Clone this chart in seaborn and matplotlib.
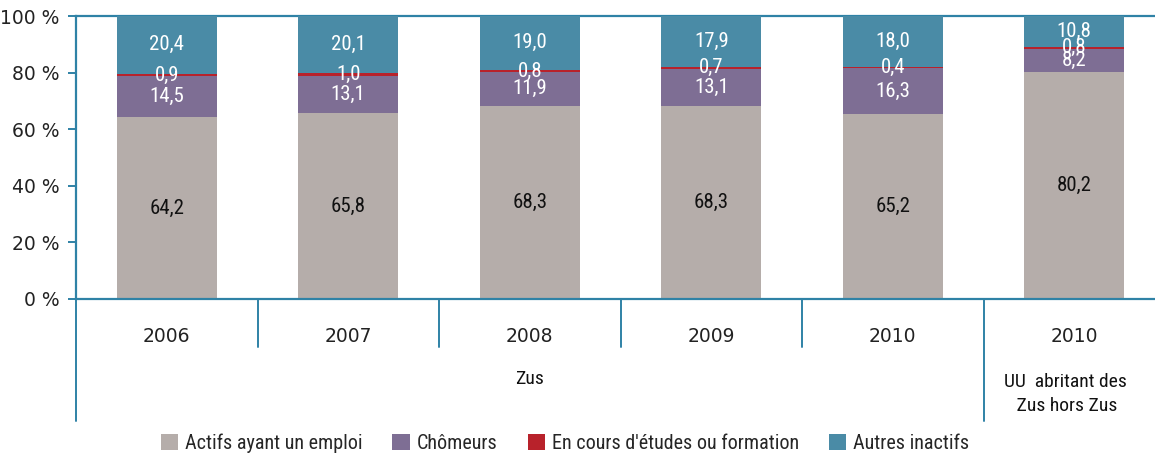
import matplotlib
matplotlib.use("Agg")
import matplotlib.pyplot as plt
import matplotlib.transforms as mtransforms
from matplotlib.patches import Patch
import numpy as np
import pandas as pd
import seaborn as sns

# --- data -------------------------------------------------------------
bar_keys = ["2006", "2007", "2008", "2009", "2010", "2010 UU"]
year_labels = ["2006", "2007", "2008", "2009", "2010", "2010"]
actifs = [64.2, 65.8, 68.3, 68.3, 65.2, 80.2]
chomeurs = [14.5, 13.1, 11.9, 13.1, 16.3, 8.2]
etudes = [0.9, 1.0, 0.8, 0.7, 0.4, 0.8]
inactifs = [20.4, 20.1, 19.0, 17.9, 18.0, 10.8]
series_names = ["Actifs ayant un emploi", "Chômeurs",
                "En cours d'études ou formation", "Autres inactifs"]
group_labels = ["Zus", "UU  abritant des\n Zus hors Zus"]
y_ticks = [0, 20, 40, 60, 80, 100]

# --- style ------------------------------------------------------------
sns.set_theme(style="white")
narrow = ["Liberation Sans Narrow", "Roboto Condensed", "Liberation Sans", "DejaVu Sans"]
plt.rcParams["font.family"] = ["DejaVu Sans"]

colors = ["#b5adaa", "#7e6e94", "#b8222b", "#4a8ba6"]
axis_col = "#2f82a6"

df = pd.DataFrame({"bar": bar_keys, "actifs": actifs, "chomeurs": chomeurs,
                   "etudes": etudes, "inactifs": inactifs})
layers = ["actifs", "chomeurs", "etudes", "inactifs"]
cum = df[layers].cumsum(axis=1)

W, H = 1155, 454
fig = plt.figure(figsize=(W / 100, H / 100), dpi=100)
ax = fig.add_axes([76 / W, (H - 299) / H, (1165 - 76) / W, (299 - 16) / H])

# stacked bars: draw cumulative totals from the top layer down
for i in range(len(layers) - 1, -1, -1):
    sns.barplot(data=cum.assign(bar=df["bar"]), x="bar", y=layers[i],
                order=bar_keys, color=colors[i], saturation=1, width=0.55,
                linewidth=0, ax=ax, zorder=2)

ax.set_xlim(-0.5, len(bar_keys) - 0.5)
ax.set_ylim(0, 100)
ax.set_xlabel("")
ax.set_ylabel("")

# value labels in the middle of each segment
for j in range(len(bar_keys)):
    base = 0.0
    for i, name in enumerate(layers):
        v = df[name].iloc[j]
        ax.text(j, base + v / 2, f"{v:.1f}".replace(".", ","),
                ha="center", va="center", fontsize=15, family=narrow,
                color="#111111" if i == 0 else "white", zorder=5)
        base += v

# axes lines
ax.spines["right"].set_visible(False)
for side in ["left", "bottom", "top"]:
    ax.spines[side].set_color(axis_col)
    ax.spines[side].set_linewidth(1.6)
ax.spines["top"].set_zorder(1)
ax.spines["left"].set_bounds(0, 100)

ax.set_yticks(y_ticks)
ax.set_yticklabels([f"{t} %" for t in y_ticks])
ax.tick_params(axis="y", length=6, width=1.4, color=axis_col, pad=6,
               labelsize=13.5, labelcolor="#222222", left=True)
ax.set_xticks(range(len(bar_keys)))
ax.set_xticklabels(year_labels)
ax.tick_params(axis="x", length=0, pad=20, labelsize=13.5, labelcolor="#222222")

# category separators below the axis
trans = mtransforms.blended_transform_factory(ax.transData, ax.transAxes)
short_y = (299 - 347) / 283
long_y = (299 - 421) / 283
for k in range(len(bar_keys)):
    x = k - 0.5
    y_end = long_y if k in (0, 5) else short_y
    ax.plot([x, x], [0, y_end], color=axis_col, lw=1.4, transform=trans,
            clip_on=False, zorder=3)

# group labels
ax.text(2.0, (299 - 379) / 283, group_labels[0], transform=trans,
        ha="center", va="center", fontsize=14, family=narrow, color="#111111")
ax.text(4.95, (299 - 394) / 283, group_labels[1], transform=trans,
        ha="center", va="center", fontsize=14, family=narrow, color="#111111",
        linespacing=1.4)

# legend
handles = [Patch(facecolor=c, edgecolor="none") for c in colors]
fig.legend(handles, series_names, loc="center", bbox_to_anchor=(565 / W, 1 - 443 / H),
           ncol=4, frameon=False, handlelength=0.85, handleheight=0.85,
           handletextpad=0.35, columnspacing=1.5,
           prop={"family": narrow, "size": 14.5})

fig.savefig("out.png", dpi=100)
